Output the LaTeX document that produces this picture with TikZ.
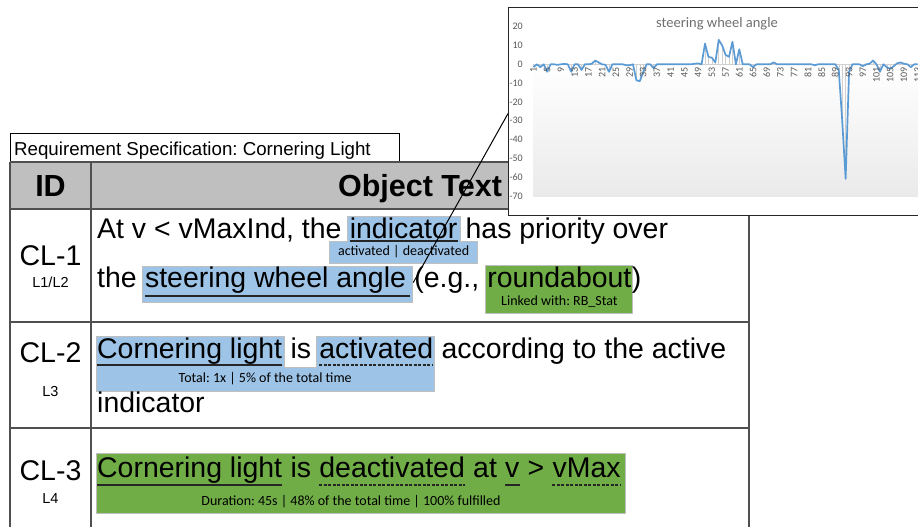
\documentclass[tikz,border=0pt]{standalone}
\usepackage{fontspec}
\setmainfont{Liberation Sans}
\newfontfamily\carl{Carlito}
\usetikzlibrary{calc,backgrounds}
\definecolor{hlblue}{HTML}{9DC3E6}
\definecolor{hlgreen}{HTML}{70AD47}
\definecolor{hdrgray}{HTML}{BFBFBF}
\definecolor{tabgray}{HTML}{505050}
\definecolor{axgray}{HTML}{595959}
\definecolor{titgray}{HTML}{707070}
\definecolor{serblue}{HTML}{5B9BD5}
\definecolor{dropgray}{HTML}{D0D0D0}
\definecolor{plotbot}{HTML}{EAEAEA}
\frenchspacing
\begin{document}
\begin{tikzpicture}[x=1pt,y=-1pt,
  wordtxt/.style={anchor=base west, inner sep=0pt, font=\fontsize{28.45}{34}\selectfont},
  idtxt/.style={anchor=base, inner sep=0pt, font=\fontsize{28.5}{34}\selectfont},
  lvltxt/.style={anchor=base, inner sep=0pt, font=\fontsize{14.5}{17}\selectfont},
  hdrtxt/.style={anchor=base, inner sep=0pt, font=\fontsize{30.5}{36}\selectfont\bfseries},
  subtxt/.style={inner sep=0pt, font=\carl\fontsize{14}{16}\selectfont},
  solidul/.style={line width=1.6pt, draw=black!85},
  dashul/.style={line width=1.3pt, draw=black!85, dash pattern=on 3pt off 1.5pt},
  blueHL/.style={fill=hlblue, draw=black!25, line width=0.6pt},
  greenHL/.style={fill=hlgreen, draw=black!25, line width=0.6pt},
  tabline/.style={draw=tabgray, line width=1.2pt},
  serline/.style={draw=serblue, line width=1.7pt, line join=round},
  dropline/.style={draw=dropgray, line width=0.5pt},
  xlabtxt/.style={rotate=90, anchor=east, inner sep=0pt, text=axgray, font=\carl\fontsize{10}{12}\selectfont},
  ylabtxt/.style={anchor=east, inner sep=0pt, text=axgray, font=\carl\fontsize{10}{12}\selectfont},
  connline/.style={draw=black, line width=1pt}]
\useasboundingbox (0,0) rectangle (918,527);
\def\gap{7.9pt}

% ---------- table frame ----------
\draw[draw=black, line width=0.9pt] (10,133) rectangle (399,162);
\node[anchor=base west, inner sep=0pt, font=\fontsize{18.7}{22}\selectfont] (ttl) at (14,155) {Requirement Specification: Cornering Light};

\draw[tabline] (10,162) -- (749,162);
\draw[tabline] (10,209) -- (749,209);
\draw[tabline] (10,322) -- (749,322);
\draw[tabline] (10,428) -- (749,428);
\draw[tabline] (10,162) -- (10,530);
\draw[tabline] (91,162) -- (91,530);
\draw[tabline] (749,162) -- (749,530);

\node[hdrtxt] (hid) at (50.5,196) {ID};
\node[hdrtxt] (hot) at (420,196) {Object Text};

% ---------- IDs ----------
\node[idtxt] (id1) at (50.5,265) {CL-1};
\node[lvltxt] (lv1) at (50.5,287) {L1/L2};
\node[idtxt] (id2) at (50.5,362) {CL-2};
\node[lvltxt] (lv2) at (50.5,396) {L3};
\node[idtxt] (id3) at (50.5,480) {CL-3};
\node[lvltxt] (lv3) at (50.5,503) {L4};

% ---------- row 1 ----------
\node[wordtxt] (a1) at (97,238) {At v < vMaxInd, the};
\node[wordtxt] (ind) at ([xshift=\gap]a1.base east) {indicator};
\node[wordtxt] (a2) at ([xshift=\gap]ind.base east) {has priority over};
\node[wordtxt] (b1) at (97,287) {the};
\node[wordtxt] (swa) at ([xshift=\gap]b1.base east) {steering wheel angle};
\node[wordtxt] (b2) at ([xshift=\gap]swa.base east) {(e.g.,};
\node[wordtxt] (rb) at ([xshift=\gap]b2.base east) {roundabout};
\node[wordtxt] (b3) at (rb.base east) {)};

% ---------- row 2 ----------
\node[wordtxt] (c1) at (97,358) {Cornering light};
\node[wordtxt] (c2) at ([xshift=\gap]c1.base east) {is};
\node[wordtxt] (act) at ([xshift=\gap]c2.base east) {activated};
\node[wordtxt] (c3) at ([xshift=\gap]act.base east) {according to the active};
\node[wordtxt] (c4) at (97,412) {indicator};

% ---------- row 3 ----------
\node[wordtxt] (d1) at (97,477) {Cornering light};
\node[wordtxt] (d2) at ([xshift=\gap]d1.base east) {is};
\node[wordtxt] (deact) at ([xshift=\gap]d2.base east) {deactivated};
\node[wordtxt] (d3) at ([xshift=\gap]deact.base east) {at};
\node[wordtxt] (vv) at ([xshift=\gap]d3.base east) {v};
\node[wordtxt] (d4) at ([xshift=\gap]vv.base east) {>};
\node[wordtxt] (vmax) at ([xshift=\gap]d4.base east) {vMax};

% ---------- background: header fill and highlights ----------
\begin{scope}[on background layer]
\fill[hdrgray] (10,162) rectangle (749,209);
\filldraw[blueHL] let \p1=(ind.west), \p2=(ind.east), \p3=(ind.center) in
  (\x1-2pt,-216pt) -- (\x2+3pt,-216pt) -- (\x2+3pt,-241pt) -- (\x3+74pt,-241pt)
  -- (\x3+74pt,-263pt) -- (\x3-74pt,-263pt) -- (\x3-74pt,-241pt) -- (\x1-2pt,-241pt) -- cycle;
\filldraw[blueHL] let \p1=(swa.west), \p2=(swa.east) in
  (\x1-2.5pt,-266pt) rectangle (\x2+6.5pt,-302pt);
\filldraw[greenHL] let \p1=(rb.west), \p2=(rb.east) in
  (\x1-2pt,-265pt) rectangle (\x2+0.5pt,-313pt);
\filldraw[blueHL] let \p1=(c1.west), \p2=(c1.east), \p3=(act.west), \p4=(act.east) in
  (\x1-1pt,-336pt) -- (\x2+1.5pt,-336pt) -- (\x2+1.5pt,-367pt) -- (\x3-3pt,-367pt)
  -- (\x3-3pt,-336pt) -- (\x4+1pt,-336pt) -- (\x4+1pt,-391pt) -- (\x1-1pt,-391pt) -- cycle;
\filldraw[greenHL] let \p1=(d1.west), \p2=(vmax.east) in
  (\x1-1pt,-453pt) rectangle (\x2+4pt,-513pt);
\end{scope}

% ---------- underlines ----------
\draw[solidul] (ind.west |- 0,241) -- (ind.east |- 0,241);
\draw[solidul] let \p1=(swa.west), \p2=(swa.east) in (\x1,-296pt) -- (\x2+4pt,-296pt);
\draw[solidul] (c1.west |- 0,365) -- (c1.east |- 0,365);
\draw[dashul] (act.west |- 0,365) -- (act.east |- 0,365);
\draw[solidul] (d1.west |- 0,485) -- (d1.east |- 0,485);
\draw[dashul] (deact.west |- 0,485) -- (deact.east |- 0,485);
\draw[solidul] (vv.west |- 0,485) -- (vv.east |- 0,485);
\draw[dashul] (vmax.west |- 0,485) -- (vmax.east |- 0,485);

% ---------- annotation labels ----------
\node[subtxt] (indlab) at (ind.center |- 0,252) {activated | deactivated};
\node[subtxt] (rblab) at (rb.center |- 0,302) {Linked with: RB\_Stat};
\coordinate (m2) at ($(c1.west)!0.5!(act.east)$);
\node[subtxt] (actlab) at (m2 |- 0,379) {Total: 1x | 5\% of the total time};
\node[subtxt] (durlab) at (351,502) {Duration: 45s | 48\% of the total time | 100\% fulfilled};

% ---------- chart ----------
\node[draw=black!85, line width=1.1pt, fill=white, anchor=north west,
      minimum width=420pt, minimum height=208pt, inner sep=0pt] (chart) at (508,7) {};
\shade[top color=white, bottom color=plotbot] (533,64.3) rectangle (925,196);
\draw[draw=dropgray, line width=0.6pt] (533,64.3) -- (925,64.3);
\def\swaData{-1.5,0,-1.5,0,-4,0,0,-0.3,0,0.2,
0,-4,0,0,-3,0,0,0.3,2,1,
0,-0.3,-4,0,0,0,0,-0.5,-0.5,0,
-8.5,-9,-4,0,0,-2,0,0,0,0,
0,0,0,0,0,0,0,0.3,0.5,0,
11,4,3.5,1,13,10,5,4,12,0,
8,0,0,0,-1.5,0,0,0,0,0,
1,0,0,0,0,0,0,0,0,0,
0,0,-0.5,0,0,0,0,0,0,-3,
-30,-61,-4,0,0,0,-1,0,0.3,2,
0,-4,0,-1.5,-2.5,-1,0.5,1,0.3,0,
-1.5,0,0}
\foreach \v [count=\i] in \swaData {
  \draw[dropline] ({533.5+(\i-1)*3.43},64.3) -- ({533.5+(\i-1)*3.43},{64.3-1.88*\v});
}
\draw[serline] (533.5,{64.3+1.88*1.5})
  \foreach \v [count=\i from 2] in {0,-1.5,0,-4,0,0,-0.3,0,0.2,
0,-4,0,0,-3,0,0,0.3,2,1,
0,-0.3,-4,0,0,0,0,-0.5,-0.5,0,
-8.5,-9,-4,0,0,-2,0,0,0,0,
0,0,0,0,0,0,0,0.3,0.5,0,
11,4,3.5,1,13,10,5,4,12,0,
8,0,0,0,-1.5,0,0,0,0,0,
1,0,0,0,0,0,0,0,0,0,
0,0,-0.5,0,0,0,0,0,0,-3,
-30,-61,-4,0,0,0,-1,0,0.3,2,
0,-4,0,-1.5,-2.5,-1,0.5,1,0.3,0,
-1.5,0,0} { -- ({533.5+(\i-1)*3.43},{64.3-1.88*\v}) };
\foreach \i in {1,5,...,113} {
  \node[xlabtxt] at ({533.5+(\i-1)*3.43},67.5) {\i};
}
\foreach \v in {20,10,0,-10,-20,-30,-40,-50,-60,-70} {
  \node[ylabtxt] at (523,{64.3-1.88*\v}) {\v};
}
\node[inner sep=0pt, text=titgray, font=\carl\fontsize{14.5}{17}\selectfont] (ctitle) at (717,24) {steering wheel angle};

% ---------- connector ----------
\coordinate (swaE) at ([xshift=7pt,yshift=-3pt]swa.east);
\draw[connline] ([yshift=-2pt]chart.west) -- (swaE);
\end{tikzpicture}
\end{document}
